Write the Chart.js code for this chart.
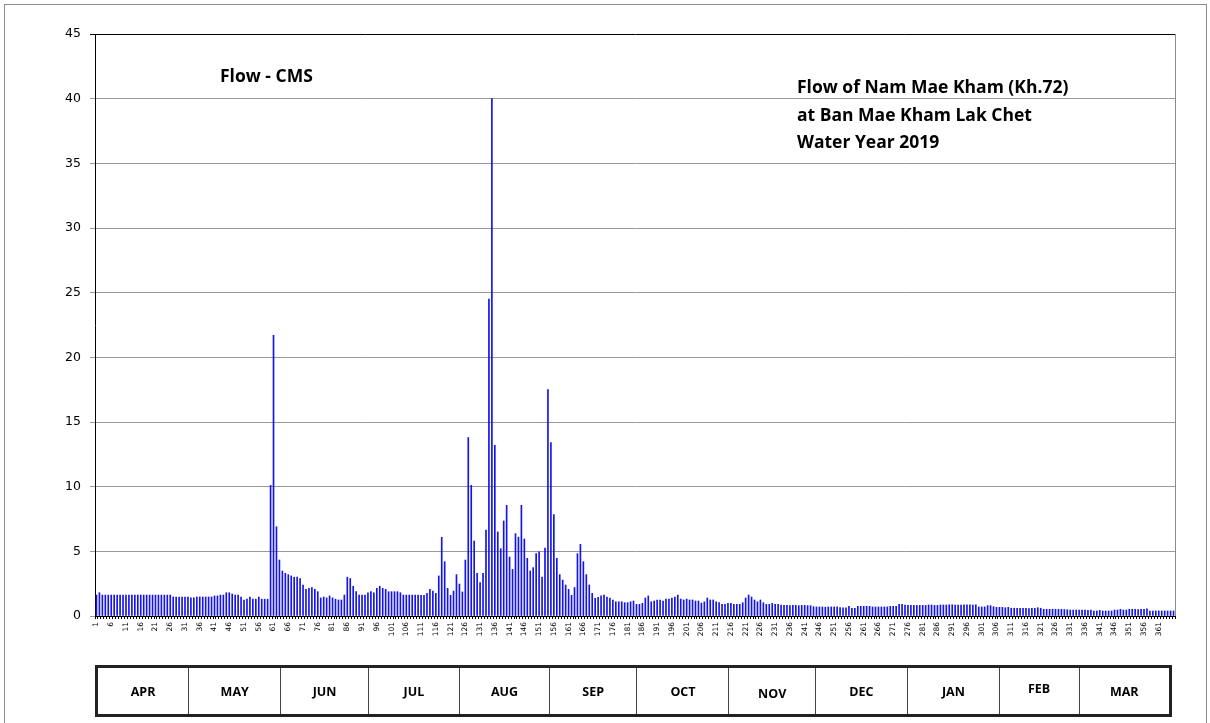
<!DOCTYPE html>
<html>
<head>
<meta charset="utf-8">
<script src="https://cdn.jsdelivr.net/npm/chart.js@4.4.0/dist/chart.umd.min.js"></script>
<style>
  body { margin: 0; background: #fff; }
  #wrap { position: relative; width: 1210px; height: 723px; overflow: hidden; }
  #frame { position: absolute; left: 4px; top: 4px; width: 1201px; height: 740px; border: 1px solid #8c8c8c; }
  canvas { position: absolute; left: 0; top: 0; }
  .title { position: absolute; font-family: "Open Sans", sans-serif; font-weight: bold; color: #000; white-space: nowrap; }
  #t1 { left: 220px; top: 63px; font-size: 17.5px; }
  #t2 { left: 797px; top: 73px; font-size: 17.5px; line-height: 27.5px; }
  #months { position: absolute; left: 95px; top: 665px; height: 52px; border: 3px solid #222; display: flex; box-sizing: border-box; }
  #months div { box-sizing: border-box; border-left: 1px solid #444; display: flex; align-items: center; justify-content: center;
    font-family: "Open Sans", sans-serif; font-weight: bold; font-size: 12.5px; color: #000; }
  #months div:first-child { border-left: none; }
</style>
</head>
<body>
<div id="wrap">
  <div id="frame"></div>
  <canvas id="flowChart" width="1210" height="723"></canvas>
  <div class="title" id="t1">Flow - CMS</div>
  <div class="title" id="t2">Flow of Nam Mae Kham (Kh.72)<br>at Ban Mae Kham Lak Chet<br>Water Year 2019</div>
  <div id="months"></div>
</div>
<script>
// daily flow (CMS), day 1 = 1 April 2019 ... day 366 = 31 March 2020
const flowValues = [
  1.62, 1.8, 1.62, 1.62, 1.62, 1.62, 1.62, 1.62, 1.62, 1.62,
  1.62, 1.62, 1.62, 1.62, 1.62, 1.62, 1.62, 1.62, 1.62, 1.62,
  1.62, 1.62, 1.62, 1.62, 1.62, 1.62, 1.47, 1.47, 1.47, 1.47,
  1.47, 1.47, 1.4, 1.4, 1.47, 1.47, 1.47, 1.47, 1.47, 1.47,
  1.55, 1.55, 1.62, 1.62, 1.8, 1.8, 1.7, 1.62, 1.62, 1.47,
  1.24, 1.3, 1.47, 1.3, 1.3, 1.47, 1.3, 1.3, 1.3, 10.1,
  21.7, 6.9, 4.33, 3.48, 3.3, 3.2, 3.1, 3.0, 3.0, 2.9,
  2.4, 2.06, 2.14, 2.2, 2.06, 1.88, 1.4, 1.47, 1.4, 1.55,
  1.4, 1.3, 1.24, 1.24, 1.62, 3.0, 2.9, 2.3, 1.88, 1.62,
  1.62, 1.62, 1.8, 1.88, 1.8, 2.14, 2.3, 2.14, 2.06, 1.88,
  1.88, 1.88, 1.88, 1.8, 1.62, 1.62, 1.62, 1.62, 1.62, 1.62,
  1.6, 1.6, 1.75, 2.06, 1.93, 1.75, 3.1, 6.08, 4.2, 2.14,
  1.6, 1.93, 3.2, 2.47, 1.86, 4.33, 13.8, 10.1, 5.8, 3.3,
  2.58, 3.3, 6.65, 24.5, 40.0, 13.2, 6.5, 5.2, 7.35, 8.56,
  4.56, 3.6, 6.37, 6.1, 8.56, 5.95, 4.46, 3.48, 3.74, 4.82,
  4.97, 3.0, 5.26, 17.5, 13.4, 7.84, 4.46, 3.2, 2.78, 2.4,
  2.06, 1.6, 2.2, 4.82, 5.54, 4.2, 3.2, 2.4, 1.75, 1.37,
  1.44, 1.55, 1.62, 1.47, 1.39, 1.24, 1.1, 1.1, 1.1, 1.03,
  1.03, 1.1, 1.16, 0.9, 0.9, 0.98, 1.39, 1.55, 1.1, 1.16,
  1.24, 1.24, 1.16, 1.31, 1.31, 1.39, 1.47, 1.62, 1.31, 1.24,
  1.31, 1.24, 1.24, 1.16, 1.16, 1.0, 1.1, 1.39, 1.24, 1.24,
  1.1, 1.03, 0.9, 0.9, 0.98, 0.98, 0.9, 0.9, 0.9, 1.03,
  1.39, 1.62, 1.47, 1.24, 1.1, 1.24, 1.03, 0.9, 0.9, 0.98,
  0.9, 0.9, 0.85, 0.82, 0.82, 0.8, 0.82, 0.82, 0.8, 0.82,
  0.82, 0.8, 0.8, 0.72, 0.7, 0.7, 0.7, 0.68, 0.7, 0.7,
  0.7, 0.7, 0.66, 0.64, 0.64, 0.75, 0.6, 0.6, 0.75, 0.75,
  0.75, 0.75, 0.75, 0.7, 0.7, 0.7, 0.7, 0.7, 0.7, 0.75,
  0.75, 0.75, 0.9, 0.9, 0.85, 0.82, 0.82, 0.82, 0.82, 0.82,
  0.82, 0.82, 0.85, 0.85, 0.82, 0.82, 0.85, 0.85, 0.85, 0.87,
  0.87, 0.85, 0.85, 0.85, 0.87, 0.87, 0.87, 0.85, 0.87, 0.7,
  0.7, 0.7, 0.8, 0.8, 0.72, 0.67, 0.67, 0.67, 0.64, 0.67,
  0.6, 0.6, 0.6, 0.6, 0.6, 0.6, 0.57, 0.6, 0.6, 0.64,
  0.6, 0.52, 0.52, 0.52, 0.52, 0.52, 0.52, 0.52, 0.5, 0.48,
  0.46, 0.46, 0.46, 0.46, 0.46, 0.46, 0.43, 0.46, 0.39, 0.39,
  0.43, 0.39, 0.39, 0.39, 0.39, 0.46, 0.46, 0.52, 0.46, 0.46,
  0.52, 0.52, 0.52, 0.5, 0.52, 0.52, 0.55, 0.39, 0.39, 0.39,
  0.39, 0.39, 0.39, 0.39, 0.39, 0.39
];

const dayLabels = flowValues.map((v, i) => String(i + 1));
const lastLabelled = 361; // Excel left the final tick label off

const monthNames = ["APR", "MAY", "JUN", "JUL", "AUG", "SEP", "OCT", "NOV", "DEC", "JAN", "FEB", "MAR"];
const monthCellWidths = [90.7, 92.6, 88, 91.7, 90.5, 88, 92.5, 87, 92.5, 92.3, 80.2, 91];

// month strip under the chart
const monthBox = document.getElementById("months");
let total = 0;
monthNames.forEach((m, i) => {
  const cell = document.createElement("div");
  cell.style.width = monthCellWidths[i] + "px";
  cell.textContent = m;
  if (m === "NOV") cell.style.paddingTop = "5px";
  if (m === "FEB") cell.style.paddingBottom = "5px";
  monthBox.appendChild(cell);
  total += monthCellWidths[i];
});
monthBox.style.width = total + "px";

// right edge of the plot area
const plotBorder = {
  id: "plotBorder",
  afterDraw(chart) {
    const { ctx, chartArea } = chart;
    ctx.save();
    ctx.strokeStyle = "#8c8c8c";
    ctx.lineWidth = 1;
    ctx.beginPath();
    ctx.moveTo(Math.round(chartArea.right) + 0.5, chartArea.top);
    ctx.lineTo(Math.round(chartArea.right) + 0.5, chartArea.bottom);
    ctx.stroke();
    ctx.restore();
  }
};

new Chart(document.getElementById("flowChart"), {
  type: "bar",
  data: {
    labels: dayLabels,
    datasets: [{
      label: "Flow",
      data: flowValues,
      backgroundColor: "#1414e6",
      barThickness: 1
    }]
  },
  options: {
    responsive: false,
    animation: false,
    layout: { padding: { left: 0, top: 34, right: 35, bottom: 0 } },
    plugins: {
      legend: { display: false },
      tooltip: { enabled: false }
    },
    scales: {
      x: {
        afterFit: s => { s.height = 107; },
        grid: {
          drawOnChartArea: false,
          drawTicks: true,
          tickLength: 3,
          color: "#000"
        },
        border: { color: "#000", width: 1 },
        ticks: {
          autoSkip: false,
          maxRotation: 90,
          minRotation: 90,
          padding: 3,
          color: "#000",
          font: { family: "DejaVu Sans", size: 7.5 },
          callback: (v, i) => (i % 5 === 0 && i < lastLabelled ? dayLabels[i] : "")
        }
      },
      y: {
        min: 0,
        max: 45,
        afterFit: s => { s.width = 95; },
        grid: {
          color: ctx => (ctx.tick && ctx.tick.value === 45 ? "#000" : "#9a9a9a"),
          tickLength: 5
        },
        border: { color: "#000", width: 1 },
        ticks: {
          stepSize: 5,
          padding: 9,
          color: "#000",
          font: { family: "DejaVu Sans", size: 12.5 }
        }
      }
    }
  },
  plugins: [plotBorder]
});
</script>
</body>
</html>
